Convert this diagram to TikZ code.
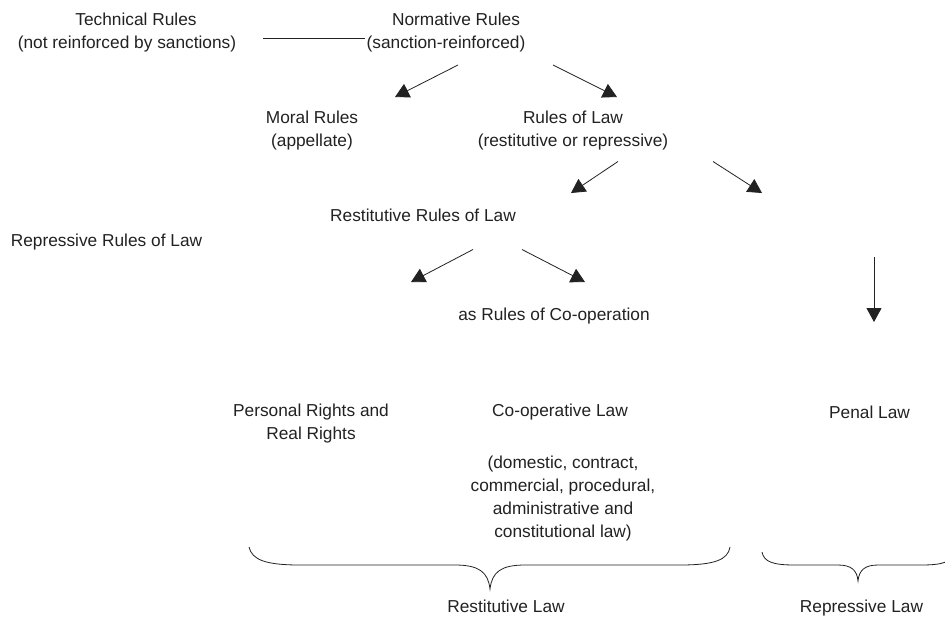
\documentclass[tikz,border=0pt]{standalone}
\usepackage{fontspec}
\setmainfont{Liberation Sans}
\usetikzlibrary{arrows.meta}
\definecolor{ink}{HTML}{222222}
% centred block of lines whose baseline is that of the first line
\newcommand{\mlines}[1]{\begin{tabular}[t]{@{}c@{}}#1\end{tabular}}
\begin{document}
\begin{tikzpicture}[x=1pt,y=-1pt,
  lbl/.style={anchor=base, inner sep=0pt, text=ink,
              font=\fontsize{17.3}{23.3}\selectfont},
  arr/.style={draw=ink, line width=0.8pt, -{Triangle[length=14pt,width=15pt]}},
  link/.style={draw=ink, line width=0.8pt},
  bracket/.style={draw=ink, line width=0.8pt}]
\useasboundingbox (0,0) rectangle (945,619);
\clip (0,0) rectangle (945,619);
\fill[white] (0,0) rectangle (945,619);

% ---- labels ----
\node[lbl] (tech) at (127,25) {\mlines{\hspace*{18pt}Technical Rules\\(not reinforced by sanctions)}};
\node[lbl] (norm) at (446,25) {\mlines{\hspace*{20pt}Normative Rules\\(sanction-reinforced)}};
\node[lbl] (moral) at (312,123.5) {\mlines{Moral Rules\\(appellate)}};
\node[lbl] (law) at (573,123.5) {\mlines{Rules of Law\\(restitutive or repressive)}};
\node[lbl] (restrules) at (423,221.5) {Restitutive Rules of Law};
\node[lbl] (represrules) at (106.5,246) {Repressive Rules of Law};
\node[lbl] (coop) at (554,320) {as Rules of Co-operation};
\node[lbl] (rights) at (311,416.5) {\mlines{Personal Rights and\\Real Rights}};
\node[lbl] (coplaw) at (560,416.5) {Co-operative Law};
\node[lbl] (coplist) at (563,468) {\mlines{(domestic, contract,\\commercial, procedural,\\administrative and\\constitutional law)}};
\node[lbl] (penal) at (869.5,418) {Penal Law};
\node[lbl] (restlaw) at (506,612.5) {Restitutive Law};
\node[lbl] (replaw) at (861.5,612.5) {Repressive Law};

% ---- connector end points ----
\coordinate (techR) at (263,38);
\coordinate (normL) at (365,38);
\coordinate (normA) at (458,65);
\coordinate (moralT) at (395,97);
\coordinate (normB) at (553,65);
\coordinate (lawT) at (617,97);
\coordinate (lawA) at (618,161.5);
\coordinate (restT) at (571,193);
\coordinate (lawB) at (713,161.5);
\coordinate (represT) at (762,193);
\coordinate (restA) at (473,249.5);
\coordinate (rightsT) at (411,282);
\coordinate (restB) at (522,249.5);
\coordinate (coopT) at (585,282);
\coordinate (penalA) at (874,257);
\coordinate (penalT) at (874,322);

% ---- connectors ----
\draw[link] (techR) -- (normL);
\draw[arr] (normA) -- (moralT);
\draw[arr] (normB) -- (lawT);
\draw[arr] (lawA) -- (restT);
\draw[arr] (lawB) -- (represT);
\draw[arr] (restA) -- (rightsT);
\draw[arr] (restB) -- (coopT);
\draw[arr] (penalA) -- (penalT);

% ---- braces ----
\draw[bracket] (249,547) .. controls (252,560) and (266,565) .. (300,565)
  -- (455,565) .. controls (479,565) and (488,572) .. (490,589)
  .. controls (492,572) and (501,565) .. (525,565)
  -- (680,565) .. controls (714,565) and (728,560) .. (730,547);
\draw[bracket] (762,552) .. controls (764,562) and (773,565) .. (795,565)
  -- (838,565) .. controls (851,565) and (857,570) .. (858,581)
  .. controls (859,570) and (865,565) .. (878,565)
  -- (921,565) .. controls (943,565) and (952,562) .. (954,552);
\end{tikzpicture}
\end{document}
